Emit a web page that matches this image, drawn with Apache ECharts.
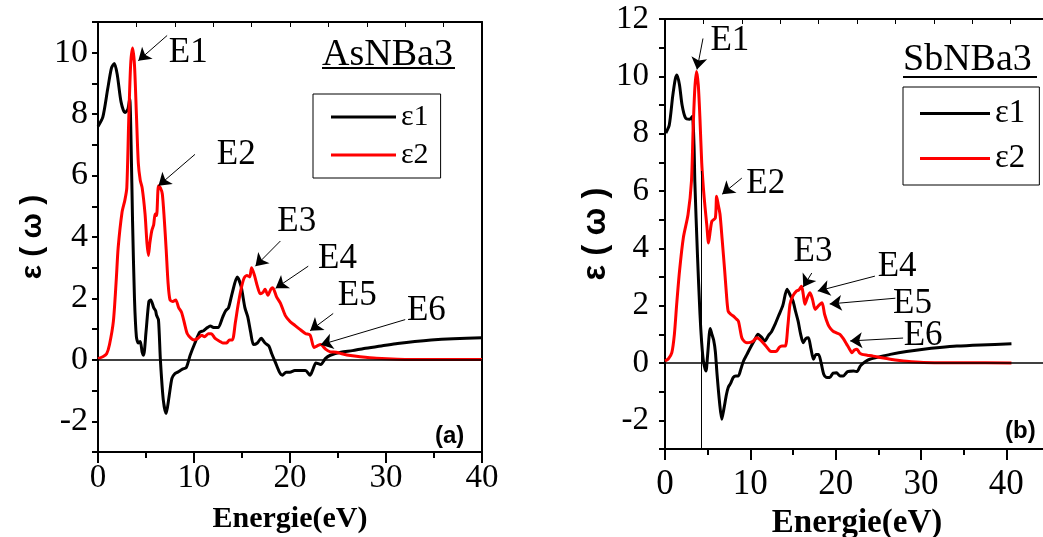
<!DOCTYPE html>
<html>
<head>
<meta charset="utf-8">
<script src="https://cdn.jsdelivr.net/npm/echarts@6/dist/echarts.min.js"></script>
<style>
  html, body { margin: 0; padding: 0; background: #fff; }
  #chart { width: 1043px; height: 537px; }
</style>
</head>
<body>
<div id="chart"></div>
<script>
  // (a) AsNBa3 : [energie, valeur]
  var asEps1 = [[0,7.6],[0.5,7.9],[1.0,8.8],[1.4,9.5],[1.7,9.65],[2.0,9.3],[2.4,8.4],[2.8,8.05],[3.1,8.15],[3.3,8.5],[3.45,7.0],[3.6,4.5],[3.8,2.0],[4.0,0.75],[4.2,0.55],[4.4,0.6],[4.6,0.25],[4.75,0.15],[5.0,0.9],[5.3,1.9],[5.5,1.95],[5.8,1.7],[6.0,1.6],[6.1,1.45],[6.3,1.3],[6.5,0.0],[6.8,-1.3],[7.1,-1.75],[7.4,-1.2],[7.7,-0.6],[8.0,-0.45],[8.3,-0.4],[8.8,-0.3],[9.2,-0.25],[9.6,0.15],[10.1,0.55],[10.6,0.9],[11.0,0.95],[11.4,1.05],[11.7,1.1],[12.1,1.05],[12.5,1.05],[13.0,1.4],[13.3,1.6],[13.6,1.7],[14.0,2.2],[14.5,2.7],[14.9,2.4],[15.3,1.7],[15.6,1.4],[15.9,0.9],[16.2,0.5],[16.6,0.55],[17.0,0.7],[17.4,0.55],[17.8,0.45],[18.1,0.2],[18.5,-0.1],[18.9,-0.4],[19.2,-0.5],[19.6,-0.4],[20.0,-0.4],[20.5,-0.35],[21.0,-0.35],[21.6,-0.35],[22.1,-0.5],[22.4,-0.3],[22.7,-0.1],[23.2,-0.15],[23.7,0.05],[24.2,0.15],[25.3,0.25],[26.5,0.3],[27.7,0.37],[29.5,0.45],[31.2,0.53],[33,0.6],[34.7,0.65],[37,0.69],[40,0.72]];
  var asEps2 = [[0,0.04],[0.5,0.1],[0.9,0.2],[1.2,0.5],[1.6,1.25],[1.9,2.6],[2.1,3.65],[2.5,4.8],[2.8,5.2],[3.0,5.6],[3.2,7.8],[3.4,9.6],[3.6,10.15],[3.8,9.6],[4.0,8.0],[4.2,6.4],[4.4,5.85],[4.6,5.6],[4.9,4.75],[5.1,3.8],[5.25,3.4],[5.4,3.8],[5.6,4.2],[5.8,4.4],[5.95,4.75],[6.1,4.7],[6.3,5.67],[6.5,5.6],[6.7,5.4],[6.9,4.6],[7.1,3.6],[7.3,2.5],[7.5,1.95],[7.8,1.9],[8.1,1.95],[8.4,1.7],[8.7,1.55],[9.0,1.2],[9.3,0.85],[9.7,0.7],[10.0,0.65],[10.4,0.7],[10.8,0.8],[11.1,0.75],[11.5,0.85],[11.8,0.85],[12.2,0.7],[12.7,0.6],[13.0,0.55],[13.4,0.55],[13.7,0.65],[14.0,0.65],[14.3,1.2],[14.6,1.8],[14.9,2.3],[15.2,2.65],[15.5,2.75],[15.8,2.7],[16.0,3.0],[16.3,2.75],[16.6,2.4],[16.9,2.15],[17.2,2.2],[17.4,2.3],[17.7,2.1],[18.0,2.3],[18.2,2.35],[18.6,2.05],[19.0,1.85],[19.5,1.45],[20.0,1.25],[20.4,1.15],[21.0,1.0],[21.6,0.86],[22.1,0.8],[22.5,0.4],[22.8,0.45],[23.2,0.5],[23.7,0.35],[24.2,0.26],[24.8,0.25],[25.4,0.2],[26.3,0.14],[27.3,0.1],[29,0.05],[31.2,0.02],[35,0.01],[40,0.01]];

  // (b) SbNBa3
  var sbEps1 = [[0.1,8.02],[0.5,8.3],[0.9,9.3],[1.2,9.9],[1.4,10.05],[1.7,9.7],[2.0,9.0],[2.4,8.55],[2.9,8.5],[3.2,8.6],[3.4,7.6],[3.5,6.3],[3.8,3.8],[4.1,1.7],[4.3,0.7],[4.5,0.07],[4.8,-0.28],[5.0,0.3],[5.3,1.2],[5.5,1.0],[5.7,0.8],[5.9,0.4],[6.1,-0.4],[6.4,-1.4],[6.65,-1.96],[6.9,-1.6],[7.2,-1.1],[7.4,-0.86],[7.7,-0.7],[8.0,-0.5],[8.3,-0.45],[8.6,-0.45],[8.9,-0.2],[9.2,0.07],[9.6,0.3],[10.0,0.53],[10.5,0.8],[10.9,1.0],[11.3,0.9],[11.7,0.77],[12.1,0.95],[12.5,1.1],[12.9,1.35],[13.3,1.64],[13.8,2.0],[14.3,2.57],[14.7,2.35],[15.0,2.16],[15.3,1.8],[15.6,1.46],[15.9,1.0],[16.2,0.71],[16.5,0.85],[16.8,0.88],[17.1,0.5],[17.4,0.13],[17.7,0.3],[18.0,0.3],[18.3,0.0],[18.6,-0.39],[18.9,-0.5],[19.3,-0.51],[19.7,-0.35],[20.1,-0.34],[20.5,-0.45],[20.9,-0.45],[21.4,-0.3],[22.1,-0.28],[22.5,-0.3],[22.9,-0.1],[23.5,0.05],[24.0,0.13],[25.2,0.22],[26.4,0.3],[28.3,0.4],[30.3,0.48],[32.2,0.54],[34.2,0.59],[37,0.63],[40.6,0.67]];
  var sbEps2 = [[0,0.07],[0.4,0.15],[0.8,0.36],[1.1,1.0],[1.37,2.05],[1.7,3.2],[2.15,4.37],[2.7,5.18],[3.1,6.34],[3.3,8.2],[3.5,9.6],[3.7,10.17],[3.9,9.7],[4.1,8.5],[4.3,7.0],[4.5,6.1],[4.7,5.41],[4.9,4.8],[5.1,4.19],[5.3,4.6],[5.5,4.95],[5.9,5.06],[6.05,5.82],[6.25,5.5],[6.45,5.18],[6.7,4.3],[7.0,3.2],[7.2,2.4],[7.4,1.81],[7.7,1.7],[8.0,1.64],[8.3,1.55],[8.6,1.46],[9.0,0.88],[9.3,0.75],[9.6,0.71],[10.0,0.72],[10.35,0.77],[10.75,0.88],[11.0,0.85],[11.3,0.77],[11.8,0.6],[12.3,0.42],[12.7,0.4],[13.1,0.42],[13.4,0.55],[13.7,0.59],[14.1,0.59],[14.4,1.3],[14.65,2.05],[15.0,2.35],[15.4,2.51],[15.7,2.55],[16.0,2.68],[16.2,2.4],[16.4,2.05],[16.7,2.3],[17.0,2.45],[17.3,2.2],[17.6,1.87],[18.0,2.0],[18.4,2.1],[18.7,1.7],[19.1,1.35],[19.4,1.2],[19.7,1.11],[20.1,1.05],[20.5,1.0],[20.9,0.85],[21.3,0.65],[21.6,0.5],[21.9,0.36],[22.2,0.45],[22.5,0.48],[22.8,0.35],[23.1,0.3],[23.7,0.27],[24.4,0.24],[25.4,0.18],[26.4,0.13],[28.3,0.06],[30.3,0.02],[35,0.01],[40.6,0.0]];

  // annotations (data coords)
  var peakNames = ['E1', 'E2', 'E3', 'E4', 'E5', 'E6'];
  var asTextPos = [[9.4,10.0],[14.4,6.66],[20.7,4.49],[24.95,3.28],[27.0,2.07],[34.2,1.61]];
  var asArrowFrom = [[7.2,10.56],[10.1,6.69],[19.0,3.87],[21.9,3.05],[24.5,1.51],[32.0,1.31]];
  var asArrowTo = [[4.2,9.74],[6.3,5.67],[16.4,3.05],[18.5,2.33],[22.1,0.95],[23.2,0.49]];
  var sbTextPos = [[7.6,11.25],[11.8,6.24],[17.35,3.87],[27.2,3.34],[29.0,2.06],[30.25,0.94]];
  var sbArrowFrom = [[4.45,11.32],[9.0,6.45],[17.2,3.14],[24.6,3.03],[27.0,2.26],[27.9,0.87]];
  var sbArrowTo = [[3.75,10.24],[6.7,5.89],[16.2,2.65],[17.9,2.51],[19.3,2.06],[21.7,0.77]];

  var serif = 'Liberation Serif';
  var sans = 'Liberation Sans';

  function pairs(from, to) {
    return from.map(function (p, i) {
      return [{ coord: p }, { coord: to[i] }];
    });
  }

  function labelSeries(pos, idx) {
    return {
      type: 'scatter',
      xAxisIndex: idx * 2,
      yAxisIndex: idx * 2,
      symbolSize: 0,
      silent: true,
      itemStyle: { color: '#000', opacity: 1 },
      z: 5,
      data: pos.map(function (p, i) { return { name: peakNames[i], value: p }; }),
      label: {
        show: true,
        position: 'inside',
        formatter: '{b}',
        fontFamily: serif,
        fontSize: 35,
        color: '#000',
        opacity: 1,
        textBorderWidth: 0,
        textBorderColor: 'transparent'
      },
      markLine: {
        silent: true,
        symbol: ['none', 'arrow'],
        symbolSize: 12,
        label: { show: false },
        lineStyle: { color: '#000', width: 1, type: 'solid', opacity: 1 },
        data: idx === 0 ? pairs(asArrowFrom, asArrowTo) : pairs(sbArrowFrom, sbArrowTo)
      }
    };
  }

  function curve(name, data, color, idx, extra) {
    var s = {
      name: name,
      type: 'line',
      xAxisIndex: idx * 2,
      yAxisIndex: idx * 2,
      data: data,
      showSymbol: false,
      smooth: 0.25,
      color: color,
      lineStyle: { color: color, width: 3 },
      z: color === '#ff0000' ? 3 : 2
    };
    if (extra) s.markLine = extra;
    return s;
  }

  function bottomAxis(gi, max, fs, margin, gap, nfs) {
    return {
      gridIndex: gi, type: 'value', position: 'bottom', min: 0, max: max, interval: 10,
      axisLine: { onZero: false, lineStyle: { color: '#000', width: 2 } },
      axisTick: { inside: false, length: 11, lineStyle: { color: '#000', width: 2 } },
      minorTick: { show: true, splitNumber: 2, length: 6, lineStyle: { color: '#000', width: 2 } },
      axisLabel: { color: '#000', fontFamily: serif, fontSize: fs, margin: margin,
        formatter: function (v) { return v % 10 === 0 ? v : ''; } },
      splitLine: { show: false },
      name: 'Energie(eV)', nameLocation: 'middle', nameGap: gap,
      nameTextStyle: { color: '#000', fontFamily: serif, fontWeight: 'bold', fontSize: nfs }
    };
  }

  function topAxis(gi, max, step) {
    return {
      gridIndex: gi, type: 'value', position: 'top', min: 0, max: max, interval: step,
      axisLine: { onZero: false, lineStyle: { color: '#000', width: 2 } },
      axisTick: { inside: true, length: 5, lineStyle: { color: '#000', width: 1 } },
      axisLabel: { show: false },
      splitLine: { show: false }
    };
  }

  function leftAxis(gi, max, fs, margin, gap, nfs) {
    return {
      gridIndex: gi, type: 'value', position: 'left', min: -3, max: max, interval: 1,
      axisLine: { onZero: false, lineStyle: { color: '#000', width: 2 } },
      axisTick: { inside: false, length: 6, lineStyle: { color: '#000', width: 2 } },
      axisLabel: { color: '#000', fontFamily: serif, fontSize: fs, margin: margin,
        formatter: function (v) { return v % 2 === 0 ? v : ''; } },
      splitLine: { show: false },
      name: 'ε ( ω )', nameLocation: 'middle', nameGap: gap,
      nameTextStyle: { color: '#000', fontFamily: sans, fontWeight: 'bold', fontSize: nfs }
    };
  }

  function rightAxis(gi, max, show) {
    return {
      gridIndex: gi, type: 'value', position: 'right', min: -3, max: max, interval: 1,
      axisLine: { show: show, onZero: false, lineStyle: { color: '#000', width: 2 } },
      axisTick: { show: false }, axisLabel: { show: false }, splitLine: { show: false }
    };
  }

  var zeroLine = {
    silent: true, symbol: 'none', label: { show: false },
    lineStyle: { color: '#000', width: 1.5, type: 'solid' },
    data: [{ yAxis: 0 }]
  };
  var zeroAndCut = {
    silent: true, symbol: 'none', label: { show: false },
    lineStyle: { color: '#000', width: 1.5, type: 'solid' },
    data: [{ yAxis: 0 }, [{ coord: [4.3, -3], lineStyle: { width: 1 } }, { coord: [4.3, 6.7] }]]
  };

  var myChart = echarts.init(document.getElementById('chart'));
  var option = {
    backgroundColor: '#fff',
    animation: false,
    grid: [
      { left: 98, top: 22, width: 384, height: 430, outerBoundsMode: 'none' },
      { left: 665, top: 19, width: 384, height: 430, outerBoundsMode: 'none' }
    ],
    xAxis: [bottomAxis(0, 40, 33, 10, 52, 30), topAxis(0, 40, 4), bottomAxis(1, 45, 35, 18, 54, 33), topAxis(1, 45, 4.5)],
    yAxis: [leftAxis(0, 11, 34, 10, 50, 30), rightAxis(0, 11, true), leftAxis(1, 12, 33, 16, 22, 33), rightAxis(1, 12, false)],
    legend: [
      {
        data: ['ε1', 'ε2'], orient: 'vertical', left: 313, top: 94,
        icon: 'rect', itemWidth: 65, itemHeight: 3, itemGap: 8,
        padding: [8, 12, 8, 18], borderColor: '#000', borderWidth: 1,
        textStyle: { fontFamily: serif, fontSize: 30, color: '#000' },
        selectedMode: false
      },
      {
        data: ['ε1', 'ε2'], orient: 'vertical', left: 903, top: 87,
        icon: 'rect', itemWidth: 70, itemHeight: 3, itemGap: 12,
        padding: [10, 14, 10, 17], borderColor: '#000', borderWidth: 1,
        textStyle: { fontFamily: serif, fontSize: 33, color: '#000' },
        selectedMode: false
      }
    ],
    graphic: [
      { type: 'text', left: 322, top: 36, style: { text: 'AsNBa3', fontFamily: serif, fontSize: 38, fill: '#000' } },
      { type: 'line', shape: { x1: 322, y1: 68, x2: 455, y2: 68 }, style: { stroke: '#000', lineWidth: 2 } },
      { type: 'text', left: 903, top: 41, style: { text: 'SbNBa3', fontFamily: serif, fontSize: 38, fill: '#000' } },
      { type: 'line', shape: { x1: 903, y1: 77, x2: 1037, y2: 77 }, style: { stroke: '#000', lineWidth: 2 } },
      { type: 'text', left: 435, top: 424, style: { text: '(a)', fontFamily: sans, fontWeight: 'bold', fontSize: 24, fill: '#000' } },
      { type: 'text', left: 1005, top: 419, style: { text: '(b)', fontFamily: sans, fontWeight: 'bold', fontSize: 24, fill: '#000' } }
    ],
    series: [
      curve('ε1', asEps1, '#000000', 0, zeroLine),
      curve('ε2', asEps2, '#ff0000', 0),
      labelSeries(asTextPos, 0),
      curve('ε1', sbEps1, '#000000', 1, zeroAndCut),
      curve('ε2', sbEps2, '#ff0000', 1),
      labelSeries(sbTextPos, 1)
    ]
  };
  option && myChart.setOption(option);
</script>
</body>
</html>
